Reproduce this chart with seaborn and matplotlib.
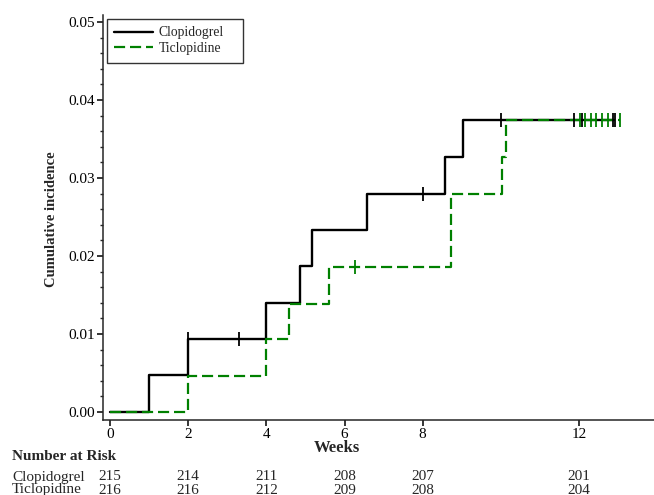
import numpy as np
import pandas as pd
import matplotlib
matplotlib.use("Agg")
import matplotlib.pyplot as plt
import seaborn as sns
from matplotlib.ticker import MultipleLocator, FormatStrFormatter

# ---- data ----
groups = ["Clopidogrel", "Ticlopidine"]
clop_weeks = [0, 1.0, 2.0, 4.0, 4.87, 5.16, 6.58, 8.58, 9.02, 12.9]
clop_inc = [0.0, 0.0047, 0.0093, 0.0140, 0.0187, 0.0233, 0.0280, 0.0327, 0.0374, 0.0374]
tic_weeks = [0, 2.0, 4.0, 4.58, 5.6, 8.72, 10.03, 10.14, 13.05]
tic_inc = [0.0, 0.0046, 0.0093, 0.0139, 0.0186, 0.0280, 0.0327, 0.0374, 0.0374]

clop_cens_weeks = [2.0, 3.29, 8.02, 10.0, 11.87, 12.07, 12.88, 12.92]
clop_cens_inc = [0.0093, 0.0093, 0.0280, 0.0374, 0.0374, 0.0374, 0.0374, 0.0374]
tic_cens_weeks = [6.28, 12.03, 12.16, 12.3, 12.44, 12.58, 12.73, 13.05]
tic_cens_inc = [0.0186, 0.0374, 0.0374, 0.0374, 0.0374, 0.0374, 0.0374, 0.0374]

risk_weeks = [0, 2, 4, 6, 8, 12]
clop_risk = [215, 214, 211, 208, 207, 201]
tic_risk = [216, 216, 212, 209, 208, 204]

x_ticks = [0, 2, 4, 6, 8, 12]

# ---- style ----
sns.set_style("ticks")
plt.rcParams["font.family"] = ["Liberation Serif", "DejaVu Serif"]
plt.rcParams["axes.linewidth"] = 1.1

W, H = 654, 495
AX_L, AX_R, AX_T, AX_B = 103, 654, 15, 420
fig = plt.figure(figsize=(W / 100, H / 100), dpi=100)
ax = fig.add_axes([AX_L / W, 1 - AX_B / H, (AX_R - AX_L) / W, (AX_B - AX_T) / H])
AW, AH = AX_R - AX_L, AX_B - AX_T

df = pd.concat([
    pd.DataFrame({"week": clop_weeks, "inc": clop_inc, "grp": groups[0]}),
    pd.DataFrame({"week": tic_weeks, "inc": tic_inc, "grp": groups[1]}),
])

green = "#008000"
sns.lineplot(data=df[df.grp == groups[0]], x="week", y="inc", color="black",
             lw=1.7, drawstyle="steps-post", estimator=None, sort=False,
             label=groups[0], ax=ax)
sns.lineplot(data=df[df.grp == groups[1]], x="week", y="inc", color=green,
             lw=1.6, linestyle=(0, (5, 2.2)), drawstyle="steps-post",
             estimator=None, sort=False, label=groups[1], ax=ax)

ax.plot(clop_cens_weeks, clop_cens_inc, linestyle="none", marker="|",
        ms=10, mew=1.3, color="black")
ax.plot(tic_cens_weeks, tic_cens_inc, linestyle="none", marker="|",
        ms=10, mew=1.3, color=green)

# 0 at px 110, 12 at px 579
pxw = (579 - 110) / 12.0
ax.set_xlim((AX_L - 110) / pxw, (AX_R - 110) / pxw)
ax.set_ylim(-0.00103, 0.0509)
ax.set_xticks(x_ticks)
ax.yaxis.set_major_locator(MultipleLocator(0.01))
ax.yaxis.set_minor_locator(MultipleLocator(0.002))
ax.yaxis.set_major_formatter(FormatStrFormatter("%.2f"))
ax.tick_params(axis="both", which="major", labelsize=11, length=4, width=1.1,
               pad=2, colors="black")
ax.tick_params(axis="y", which="minor", length=2.5, width=1.0)
sns.despine(ax=ax)

ax.set_xlabel("Weeks", fontsize=12, fontweight="bold", va="center")
ax.xaxis.set_label_coords((337 - AX_L) / AW, -(448 - AX_B) / AH)
ax.set_ylabel("Cumulative incidence", fontsize=10.5, fontweight="bold", va="center")
ax.yaxis.set_label_coords(-(AX_L - 52) / AW, 0.5 + ((AX_B + AX_T) / 2 - 219) / AH)

leg = ax.legend(loc="upper left", fontsize=9.8, frameon=True, fancybox=False,
                edgecolor="black", borderaxespad=0.0, handlelength=2.8,
                handletextpad=0.45, borderpad=0.55, labelspacing=0.2,
                mode="expand",
                bbox_to_anchor=(4 / AW, 1 - 4 / AH - 0.3, 136 / AW, 0.3))
leg.get_frame().set_linewidth(1.0)

# ---- number at risk ----
fig.text(12 / W, 1 - 456 / H, "Number at Risk", fontsize=11, fontweight="bold",
         ha="left", va="center")
trans = matplotlib.transforms.blended_transform_factory(ax.transData, fig.transFigure)
for label, vals, ypx in [(groups[0], clop_risk, 477), (groups[1], tic_risk, 490)]:
    fig.text(12 / W, 1 - ypx / H, label, fontsize=11, ha="left", va="center")
    for wk, v in zip(risk_weeks, vals):
        ax.text(wk, 1 - ypx / H, str(v), transform=trans, fontsize=11,
                ha="center", va="center", clip_on=False)

fig.savefig("out.png", dpi=100)
